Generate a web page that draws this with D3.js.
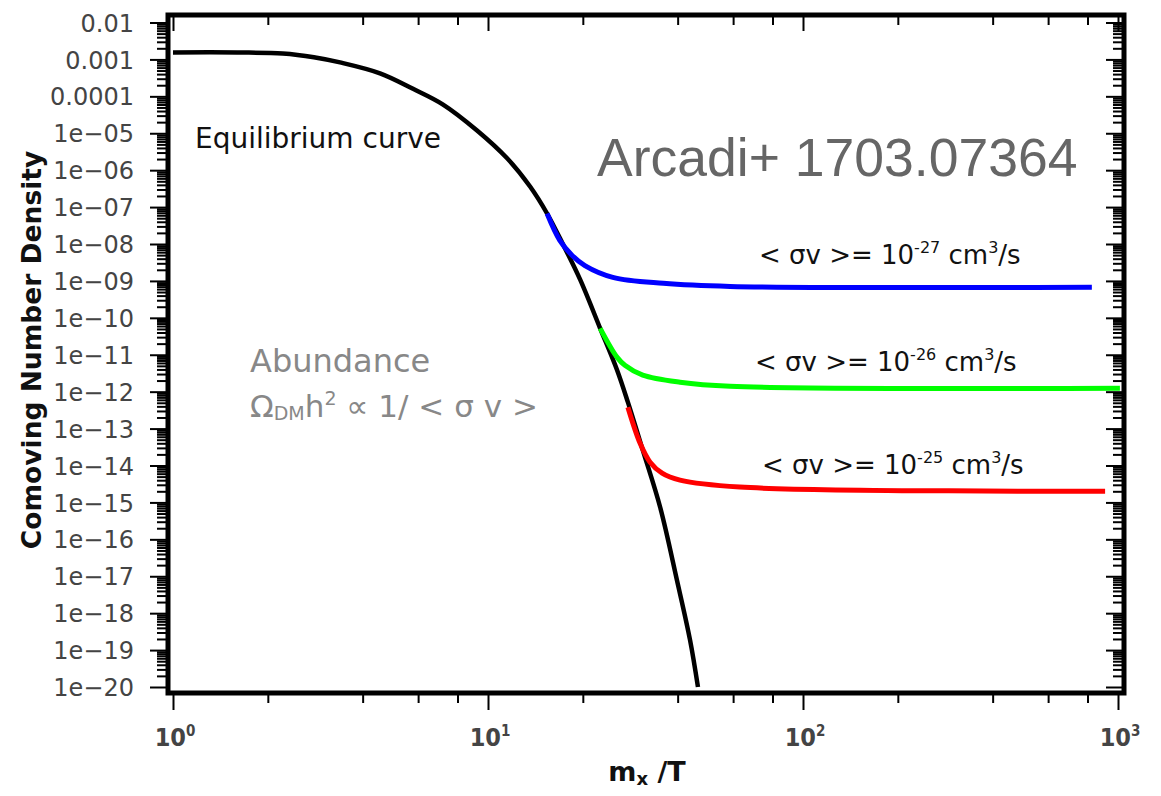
<!DOCTYPE html>
<html>
<head>
<meta charset="utf-8">
<script src="https://cdn.jsdelivr.net/npm/d3@7"></script>
<style>
body { margin: 0; background: #fff; }
</style>
</head>
<body>
<svg width="1161" height="796"></svg>
<script>
// equilibrium curve (black)
var eqX = [1.0, 1.6, 2.23, 2.8, 3.39, 4.54, 5.78, 7.2, 9.23, 11.5, 13.6, 15.4, 17.3, 19.6, 22.7, 25.7, 27.8, 31.0, 35.2, 39.8, 43.8, 46.4];
var eqY = [1.55e-3, 1.54e-3, 1.45e-3, 1.15e-3, 8.3e-4, 4.2e-4, 1.6e-4, 6.0e-5, 1.19e-5, 2.1e-6, 3.6e-7, 6.7e-8, 9.8e-9, 1.1e-9, 5.2e-11, 3.8e-12, 5.2e-13, 2.6e-14, 7.4e-16, 7.8e-18, 1.86e-19, 1e-20];

// <sigma v> = 1e-27
var blueX = [15.4, 16.9, 18.5, 20.3, 24.9, 36.0, 58.7, 826];
var blueY = [6.7e-8, 1.26e-8, 4.9e-9, 2.6e-9, 1.25e-9, 8.6e-10, 7.1e-10, 6.7e-10];
// <sigma v> = 1e-26
var greenX = [22.7, 25.7, 27.2, 31.0, 40.7, 58.7, 1014];
var greenY = [5.2e-11, 8.5e-12, 5.2e-12, 2.8e-12, 1.8e-12, 1.4e-12, 1.24e-12];
// <sigma v> = 1e-25
var redX = [27.8, 30.4, 32.7, 35.7, 40.7, 63, 910];
var redY = [3.8e-13, 4.0e-14, 1.23e-14, 6.2e-15, 4.0e-15, 2.6e-15, 2.0e-15];

var yExps = [-2, -3, -4, -5, -6, -7, -8, -9, -10, -11, -12, -13, -14, -15, -16, -17, -18, -19, -20];
var yTickLabels = ["0.01", "0.001", "0.0001", "1e\u221205", "1e\u221206", "1e\u221207", "1e\u221208", "1e\u221209", "1e\u221210",
  "1e\u221211", "1e\u221212", "1e\u221213", "1e\u221214", "1e\u221215", "1e\u221216", "1e\u221217", "1e\u221218", "1e\u221219", "1e\u221220"];
var xExps = [0, 1, 2, 3];
var xMinorMult = [2, 4, 6, 8];
var yMinorMult = [2, 3, 4, 5, 6, 7, 8, 9];

var svg = d3.select("svg");

var x = d3.scaleLog().domain([1, 1000]).range([173, 1118]);
var y = d3.scaleLog().domain([1e-20, 1e-2]).range([687, 22.5]);

var frameL = 168, frameR = 1124, frameT = 15, frameB = 693;
var sans = "'DejaVu Sans', sans-serif";

var yMajor = yExps.map(e => Math.pow(10, e));
var yMinor = [];
yExps.forEach(function(e) {
  if (e == -2) return;
  yMinorMult.forEach(m => yMinor.push(m * Math.pow(10, e)));
});
var xMajor = xExps.map(e => Math.pow(10, e));
var xMinor = [];
xExps.forEach(function(e) {
  if (e == 3) return;
  xMinorMult.forEach(m => xMinor.push(m * Math.pow(10, e)));
});

function styleAxis(g) {
  g.select(".domain").remove();
  g.selectAll(".tick line").attr("stroke", "#000").attr("stroke-width", 2);
}

// left axis, ticks outside
svg.append("g").attr("transform", `translate(${frameL - 2},0)`)
  .call(d3.axisLeft(y).tickValues(yMajor).tickSize(16).tickPadding(16).tickFormat((d, i) => yTickLabels[i]))
  .call(styleAxis)
  .call(g => g.selectAll("text").attr("fill", "#444").attr("dy", "0.36em")
    .style("font-family", sans).style("font-size", "24px"));
svg.append("g").attr("transform", `translate(${frameL - 2},0)`)
  .call(d3.axisLeft(y).tickValues(yMinor).tickSize(9).tickFormat(""))
  .call(styleAxis);

// right axis, ticks inside
svg.append("g").attr("transform", `translate(${frameR - 2},0)`)
  .call(d3.axisLeft(y).tickValues(yMajor).tickSize(16).tickFormat(""))
  .call(styleAxis);
svg.append("g").attr("transform", `translate(${frameR - 2},0)`)
  .call(d3.axisLeft(y).tickValues(yMinor).tickSize(9).tickFormat(""))
  .call(styleAxis);

// bottom axis, ticks outside
svg.append("g").attr("transform", `translate(0,${frameB + 2})`)
  .call(d3.axisBottom(x).tickValues(xMajor).tickSize(15).tickFormat(""))
  .call(styleAxis);
svg.append("g").attr("transform", `translate(0,${frameB + 2})`)
  .call(d3.axisBottom(x).tickValues(xMinor).tickSize(8).tickFormat(""))
  .call(styleAxis);

// top axis, ticks inside
svg.append("g").attr("transform", `translate(0,${frameT + 2})`)
  .call(d3.axisBottom(x).tickValues(xMajor).tickSize(14).tickFormat(""))
  .call(styleAxis);
svg.append("g").attr("transform", `translate(0,${frameT + 2})`)
  .call(d3.axisBottom(x).tickValues(xMinor).tickSize(8).tickFormat(""))
  .call(styleAxis);

// x tick labels 10^n
var xl = svg.append("g").selectAll("text").data(xExps).enter().append("text")
  .attr("x", d => x(Math.pow(10, d)) + 2)
  .attr("y", 746)
  .attr("text-anchor", "middle")
  .attr("fill", "#444")
  .style("font-family", "'DejaVu Sans Condensed', 'DejaVu Sans', sans-serif")
  .style("font-weight", "bold")
  .style("font-size", "25px");
xl.append("tspan").text("10");
xl.append("tspan").attr("dy", -10).style("font-size", "15px").text(d => d);

// frame
svg.append("rect")
  .attr("x", frameL).attr("y", frameT)
  .attr("width", frameR - frameL).attr("height", frameB - frameT)
  .attr("fill", "none").attr("stroke", "#000").attr("stroke-width", 5);

// curves
var line = d3.line().x(d => x(d[0])).y(d => y(d[1])).curve(d3.curveCatmullRom.alpha(0.5));
function draw(xs, ys, color, w) {
  svg.append("path")
    .datum(xs.map((v, i) => [v, ys[i]]))
    .attr("d", line)
    .attr("fill", "none")
    .attr("stroke", color)
    .attr("stroke-width", w)
    .attr("stroke-linejoin", "round");
}
draw(eqX, eqY, "#000", 4.5);
draw(blueX, blueY, "#0000ff", 5);
draw(greenX, greenY, "#00ff00", 5);
draw(redX, redY, "#ff0000", 5);

// annotations
svg.append("text").attr("x", 195).attr("y", 148).attr("fill", "#111")
  .style("font-family", sans).style("font-size", "28px").text("Equilibrium curve");

svg.append("text").attr("x", 597).attr("y", 176).attr("fill", "#666")
  .style("font-family", "'Liberation Sans', Arial, sans-serif").style("font-size", "53.5px")
  .text("Arcadi+ 1703.07364");

svg.append("text").attr("x", 250).attr("y", 372).attr("fill", "#888")
  .style("font-family", sans).style("font-size", "32px").text("Abundance");
var ab = svg.append("text").attr("x", 250).attr("y", 417).attr("fill", "#888")
  .style("font-family", sans).style("font-size", "31px");
ab.append("tspan").text("\u03A9");
ab.append("tspan").style("font-size", "19px").attr("dy", 3).text("DM");
ab.append("tspan").attr("dy", -3).text("h");
ab.append("tspan").style("font-size", "19px").attr("dy", -12).text("2");
ab.append("tspan").attr("dy", 12).text(" \u221D 1/ < \u03C3 v >");

var sigLabels = [
  {exp: "-27", x: 759, y: 264},
  {exp: "-26", x: 755, y: 371},
  {exp: "-25", x: 762, y: 474}
];
sigLabels.forEach(function(s) {
  var t = svg.append("text").attr("x", s.x).attr("y", s.y).attr("fill", "#111")
    .style("font-family", sans).style("font-size", "26px");
  t.append("tspan").text("< \u03C3v >= 10");
  t.append("tspan").style("font-size", "16px").attr("dy", -11).text(s.exp);
  t.append("tspan").attr("dy", 11).text(" cm");
  t.append("tspan").style("font-size", "16px").attr("dy", -11).text("3");
  t.append("tspan").attr("dy", 11).text("/s");
});

// axis titles
svg.append("text")
  .attr("transform", "translate(41,350) rotate(-90)")
  .attr("text-anchor", "middle").attr("fill", "#111")
  .style("font-family", sans).style("font-weight", "bold").style("font-size", "26.5px")
  .text("Comoving Number Density");

var xt = svg.append("text").attr("x", 647).attr("y", 781).attr("text-anchor", "middle").attr("fill", "#111")
  .style("font-family", sans).style("font-weight", "bold").style("font-size", "27px");
xt.append("tspan").text("m");
xt.append("tspan").style("font-size", "18px").attr("dy", 4).text("x");
xt.append("tspan").attr("dy", -4).text(" /T");
</script>
</body>
</html>
